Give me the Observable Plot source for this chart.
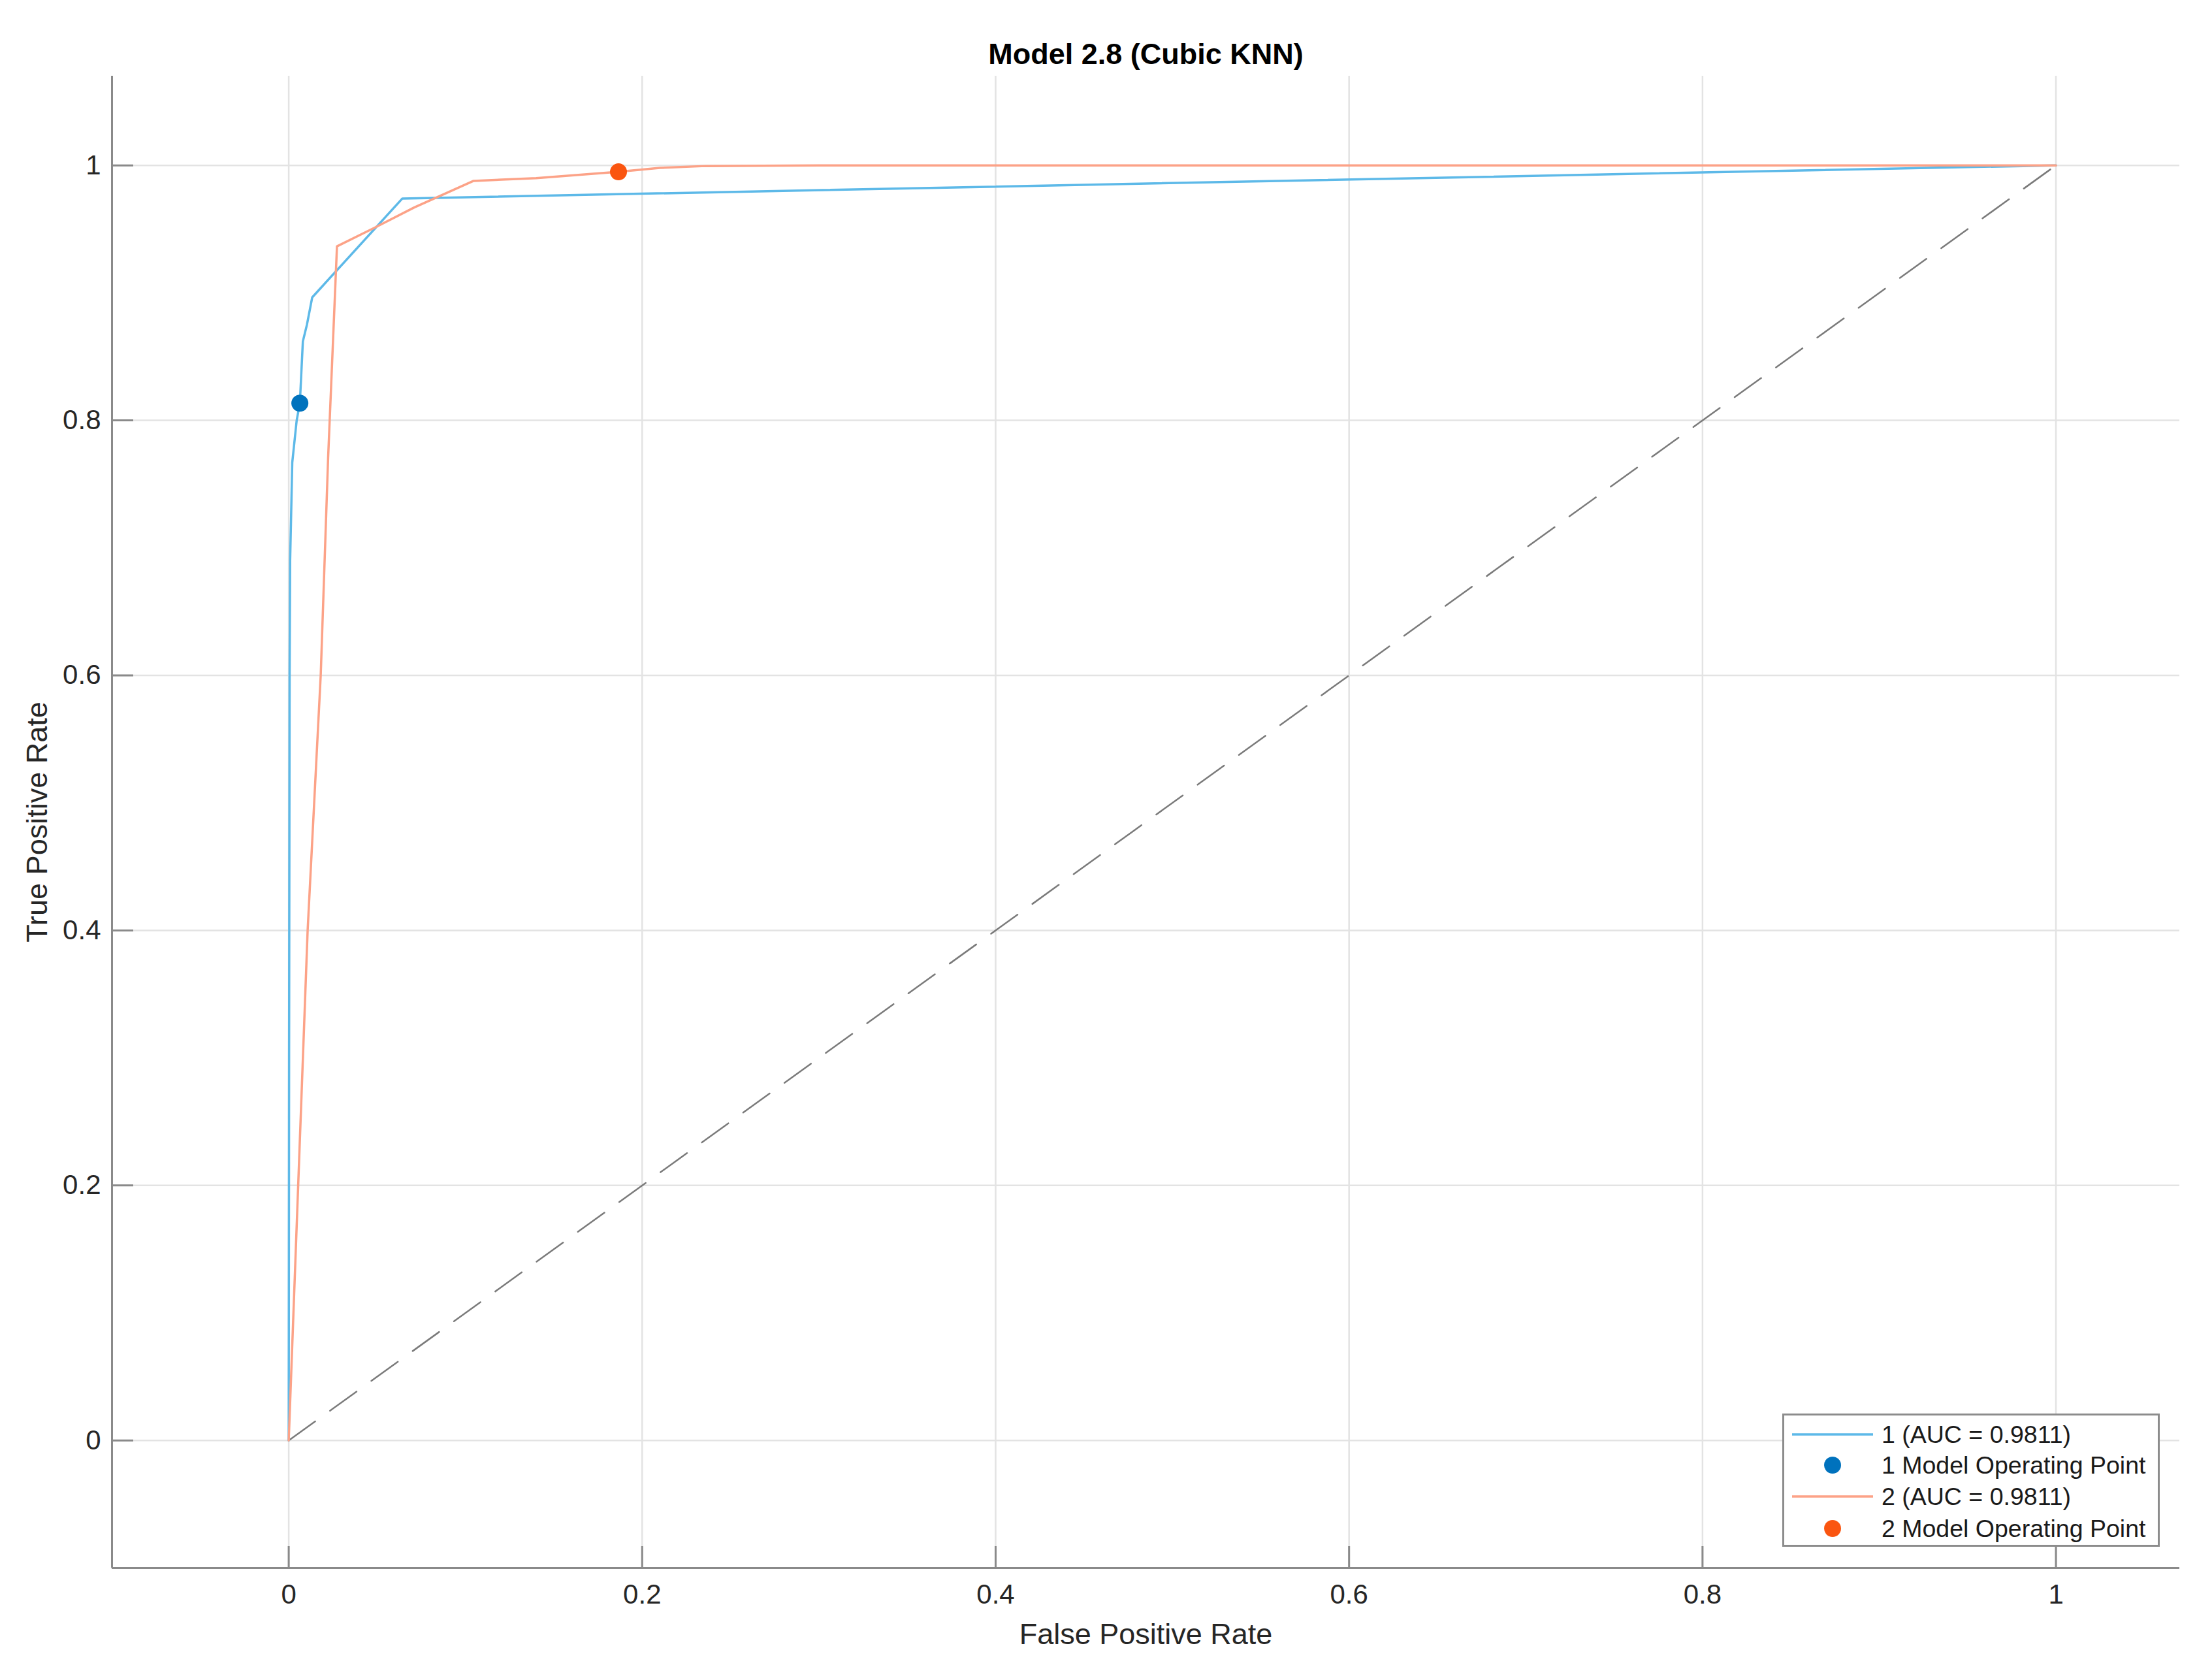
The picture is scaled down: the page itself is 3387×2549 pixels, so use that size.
<!DOCTYPE html>
<html>
<head>
<meta charset="utf-8">
<script src="https://cdn.jsdelivr.net/npm/d3@7"></script>
<script src="https://cdn.jsdelivr.net/npm/@observablehq/plot@0.6"></script>
<style>
  html, body { margin: 0; padding: 0; background: #fff; }
  #wrap { position: relative; width: 3387px; height: 2549px; font-family: "Liberation Sans", Arial, Helvetica, sans-serif; }
  #legend { position: absolute; left: 2729px; top: 2164px; width: 578px; height: 204px; box-sizing: border-box;
            border: 3px solid #8c8c8c; background: #fff; }
  .lrow { position: absolute; left: 0; width: 100%; height: 46px; }
  .lrow svg { position: absolute; left: 12px; top: 0; }
  .lrow span { position: absolute; left: 149px; top: 0; line-height: 46px; font-size: 37.5px; color: #1a1a1a; white-space: nowrap; }
</style>
</head>
<body>
<div id="wrap"></div>
<script>
// ---- data ----
const chartTitle = "Model 2.8 (Cubic KNN)";
const xLabel = "False Positive Rate";
const yLabel = "True Positive Rate";

const fpr1 = [0, 0.0002, 0.0005, 0.0008, 0.002, 0.0045, 0.0063, 0.008, 0.0103, 0.0133, 0.0643, 1];
const tpr1 = [0, 0.30, 0.60, 0.69, 0.767, 0.800, 0.8135, 0.862, 0.875, 0.8965, 0.974, 1];

const fpr2 = [0, 0.0107, 0.0181, 0.0223, 0.0273, 0.0485, 0.071, 0.1046, 0.14, 0.1866, 0.21, 0.236, 0.30, 1];
const tpr2 = [0, 0.400, 0.600, 0.771, 0.9365, 0.951, 0.967, 0.9878, 0.9900, 0.9949, 0.998, 0.9995, 1, 1];

const opX = [0.0063, 0.1866];
const opY = [0.8135, 0.9949];
const opClass = ["1", "2"];

const diagX = [0, 1];
const diagY = [0, 1];

const xTicks = [0, 0.2, 0.4, 0.6, 0.8, 1];
const xTickLabels = ["0", "0.2", "0.4", "0.6", "0.8", "1"];
const yTicks = [0, 0.2, 0.4, 0.6, 0.8, 1];
const yTickLabels = ["0", "0.2", "0.4", "0.6", "0.8", "1"];

const legendLabels = ["1 (AUC = 0.9811)", "1 Model Operating Point", "2 (AUC = 0.9811)", "2 Model Operating Point"];
const legendKinds = ["line", "dot", "line", "dot"];

// ---- styles ----
const lineColors = {"1": "#5db9e8", "2": "#fca287"};
const dotColors = {"1": "#0072bd", "2": "#fa5510"};
const legendColors = [lineColors["1"], dotColors["1"], lineColors["2"], dotColors["2"]];

const curve1 = fpr1.map((x, i) => ({x, y: tpr1[i]}));
const curve2 = fpr2.map((x, i) => ({x, y: tpr2[i]}));
const ops = opX.map((x, i) => ({x, y: opY[i], c: opClass[i]}));
const diag = diagX.map((x, i) => ({x, y: diagY[i]}));

const W = 3387, H = 2549;
const mL = 171, mR = 50, mT = 116, mB = 149;
const innerW = W - mL - mR, innerH = H - mT - mB;
const tickLen = 33;
const textColor = "#262626";
const axisColor = "#8a8a8a";
const gridColor = "#e3e3e3";

const chart = Plot.plot({
  width: W,
  height: H,
  marginLeft: mL, marginRight: mR, marginTop: mT, marginBottom: mB,
  style: {fontFamily: '"Liberation Sans", Arial, Helvetica, sans-serif', background: "#fff", color: textColor},
  x: {domain: [-0.1, 1.07], label: null},
  y: {domain: [-0.1, 1.07], label: null},
  marks: [
    Plot.gridX(xTicks, {stroke: gridColor, strokeOpacity: 1, strokeWidth: 2.5}),
    Plot.gridY(yTicks, {stroke: gridColor, strokeOpacity: 1, strokeWidth: 2.5}),
    Plot.axisX(xTicks, {tickSize: 0, tickPadding: 25, fontSize: 42, tickFormat: (d, i) => xTickLabels[i], fill: textColor}),
    Plot.axisY(yTicks, {tickSize: 0, tickPadding: 17, fontSize: 42, tickFormat: (d, i) => yTickLabels[i], fill: textColor}),
    Plot.tickX(xTicks, {x: d => d, insetTop: innerH - tickLen, stroke: axisColor, strokeWidth: 3}),
    Plot.tickY(yTicks, {y: d => d, insetRight: innerW - tickLen, stroke: axisColor, strokeWidth: 3}),
    Plot.ruleX([-0.1], {stroke: axisColor, strokeWidth: 3}),
    Plot.ruleY([-0.1], {stroke: axisColor, strokeWidth: 3}),
    Plot.line(diag, {x: "x", y: "y", stroke: "#7a7a7a", strokeWidth: 2.5, strokeDasharray: "50,28"}),
    Plot.line(curve1, {x: "x", y: "y", stroke: lineColors["1"], strokeWidth: 3.5}),
    Plot.line(curve2, {x: "x", y: "y", stroke: lineColors["2"], strokeWidth: 3.5}),
    Plot.dot(ops, {x: "x", y: "y", r: 13, fill: d => dotColors[d.c], stroke: "none"}),
    Plot.text([chartTitle], {frameAnchor: "top", lineAnchor: "middle", dy: -33, fontSize: 45, fontWeight: "bold", fill: "#000"}),
    Plot.text([xLabel], {frameAnchor: "bottom", lineAnchor: "middle", dy: 102, fontSize: 45, fill: textColor}),
    Plot.text([yLabel], {frameAnchor: "left", textAnchor: "middle", lineAnchor: "middle", dx: -114, rotate: -90, fontSize: 45, fill: textColor})
  ]
});

const wrap = document.getElementById("wrap");
wrap.appendChild(chart);

// legend overlay
const legend = document.createElement("div");
legend.id = "legend";
const rowTops = [6, 53, 101, 150];
legendLabels.forEach((lab, i) => {
  const row = document.createElement("div");
  row.className = "lrow";
  row.style.top = rowTops[i] + "px";
  const svg = d3.create("svg").attr("width", 126).attr("height", 46);
  if (legendKinds[i] === "line") {
    svg.append("line").attr("x1", 0).attr("x2", 124).attr("y1", 23).attr("y2", 23)
      .attr("stroke", legendColors[i]).attr("stroke-width", 3.5);
  } else {
    svg.append("circle").attr("cx", 62).attr("cy", 23).attr("r", 13).attr("fill", legendColors[i]);
  }
  row.appendChild(svg.node());
  const sp = document.createElement("span");
  sp.textContent = lab;
  row.appendChild(sp);
  legend.appendChild(row);
});
wrap.appendChild(legend);
</script>
</body>
</html>
